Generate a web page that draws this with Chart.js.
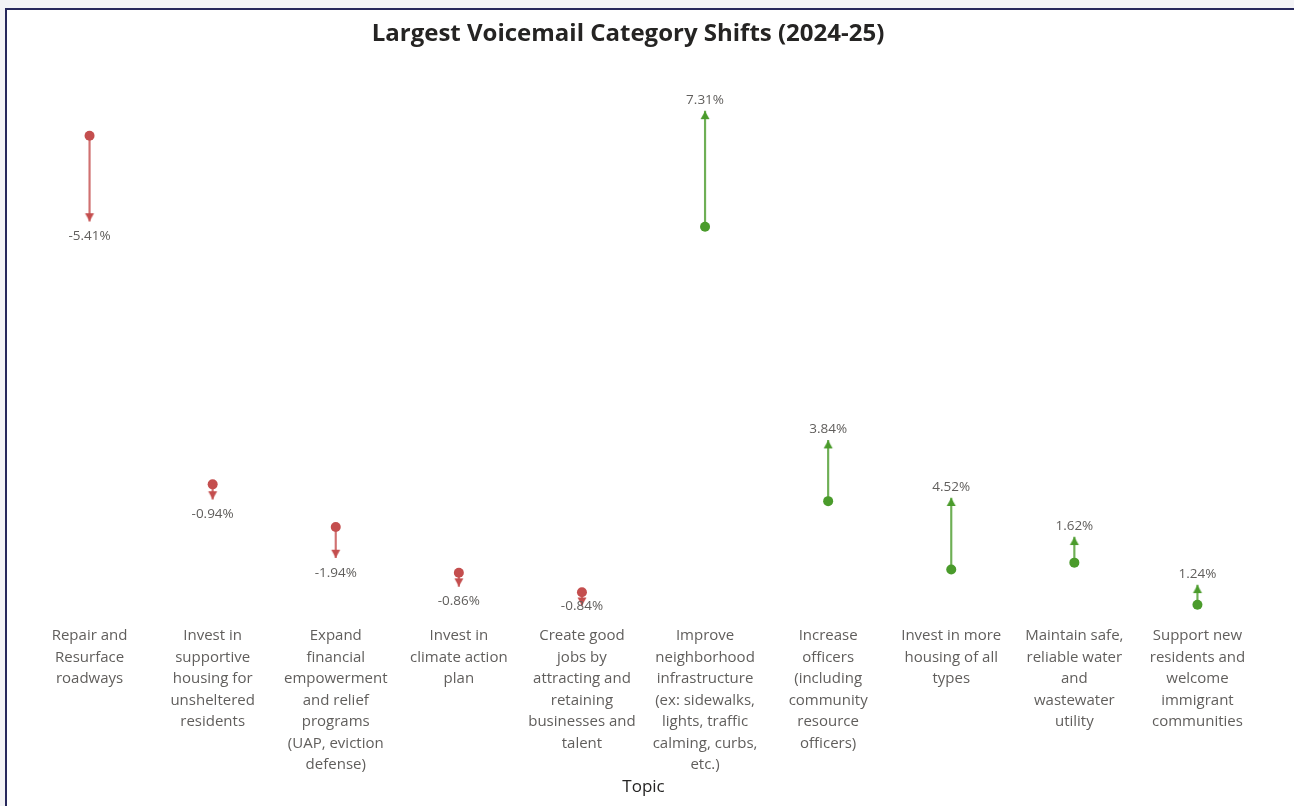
<!DOCTYPE html>
<html>
<head>
<meta charset="utf-8">
<title>Largest Voicemail Category Shifts (2024-25)</title>
<script src="https://cdn.jsdelivr.net/npm/chart.js@4.4.0/dist/chart.umd.min.js"></script>
<style>
  html, body { margin: 0; padding: 0; background: #f3f3f6; overflow: hidden; }
  #frame {
    position: absolute; left: 5px; top: 8px; width: 1400px; height: 900px;
    background: #fff; border: 2px solid #27285c;
  }
  #title {
    position: absolute; left: 0; top: 5px; width: 1242px; line-height: 32px;
    text-align: center; font: bold 24px "Segoe UI", "Open Sans", sans-serif; color: #252423;
  }
  #wrap { position: absolute; left: 0; top: 0; width: 1287px; height: 796px; }
</style>
</head>
<body>
<div id="frame">
  <div id="wrap"><canvas id="shiftChart"></canvas></div>
  <div id="title">Largest Voicemail Category Shifts (2024-25)</div>
</div>
<script>
// topics, wrapped the way they show under the axis
const topics = [
  ['Repair and', 'Resurface', 'roadways'],
  ['Invest in', 'supportive', 'housing for', 'unsheltered', 'residents'],
  ['Expand', 'financial', 'empowerment', 'and relief', 'programs', '(UAP, eviction', 'defense)'],
  ['Invest in', 'climate action', 'plan'],
  ['Create good', 'jobs by', 'attracting and', 'retaining', 'businesses and', 'talent'],
  ['Improve', 'neighborhood', 'infrastructure', '(ex: sidewalks,', 'lights, traffic', 'calming, curbs,', 'etc.)'],
  ['Increase', 'officers', '(including', 'community', 'resource', 'officers)'],
  ['Invest in more', 'housing of all', 'types'],
  ['Maintain safe,', 'reliable water', 'and', 'wastewater', 'utility'],
  ['Support new', 'residents and', 'welcome', 'immigrant', 'communities']
];

// share of voicemails in 2024 (%)
const share2024 = [30.15, 8.10, 5.40, 2.51, 1.28, 24.39, 7.04, 2.72, 3.15, 0.49];
// change to 2025 (percentage points)
const shift = [-5.41, -0.94, -1.94, -0.86, -0.84, 7.31, 3.84, 4.52, 1.62, 1.24];

const share2025 = share2024.map((v, i) => Math.round((v + shift[i]) * 100) / 100);

const RED = '#c44e4e';
const GREEN = '#4a9b2b';
const colorFor = i => (shift[i] < 0 ? RED : GREEN);

// arrowhead image whose tip sits at the image centre
function arrowHead(color, up) {
  const c = document.createElement('canvas');
  c.width = 20;
  c.height = 20;
  const g = c.getContext('2d');
  g.fillStyle = color;
  g.beginPath();
  if (up) {
    g.moveTo(10, 10); g.lineTo(14.5, 18); g.lineTo(5.5, 18);
  } else {
    g.moveTo(10, 10); g.lineTo(14.5, 2); g.lineTo(5.5, 2);
  }
  g.closePath();
  g.fill();
  return c;
}
const upHead = arrowHead(GREEN, true);
const downHead = arrowHead(RED, false);

// text of the change, placed past the arrow tip
const shiftLabels = {
  id: 'shiftLabels',
  afterDatasetsDraw(chart) {
    const { ctx, chartArea, scales } = chart;
    ctx.save();
    ctx.font = '13.5px "Segoe UI", "Open Sans", sans-serif';
    ctx.fillStyle = '#605e5c';
    ctx.textAlign = 'center';
    ctx.textBaseline = 'middle';
    shift.forEach((d, i) => {
      const x = scales.x.getPixelForValue(i);
      const yEnd = scales.y.getPixelForValue(share2025[i]);
      let y = d < 0 ? yEnd + 15 : yEnd - 11;
      y = Math.min(y, chartArea.bottom - 6);
      ctx.fillText(d.toFixed(2) + '%', x, y);
    });
    ctx.restore();
  }
};

new Chart(document.getElementById('shiftChart'), {
  type: 'bar',
  data: {
    labels: topics,
    datasets: [
      {
        label: '2024',
        type: 'line',
        data: share2024,
        showLine: false,
        pointRadius: 5,
        pointHoverRadius: 5,
        pointBackgroundColor: share2024.map((_, i) => colorFor(i)),
        pointBorderWidth: 0,
        order: 1
      },
      {
        label: '2025',
        type: 'line',
        data: share2025,
        showLine: false,
        pointStyle: shift.map(d => (d < 0 ? downHead : upHead)),
        order: 2
      },
      {
        label: 'Shift',
        data: share2024.map((v, i) => [v, share2025[i]]),
        backgroundColor: shift.map(d => (d < 0 ? 'rgba(196,78,78,0.8)' : 'rgba(74,155,43,0.8)')),
        barThickness: 1.5,
        borderSkipped: false,
        order: 3
      }
    ]
  },
  options: {
    responsive: true,
    maintainAspectRatio: false,
    animation: false,
    layout: { padding: { left: 21, right: 35, top: 49, bottom: 9 } },
    plugins: {
      legend: { display: false },
      tooltip: { enabled: false }
    },
    scales: {
      x: {
        offset: true,
        grid: { display: false },
        border: { display: false },
        ticks: {
          padding: 5,
          maxRotation: 0,
          autoSkip: false,
          color: '#605e5c',
          font: { family: '"Segoe UI", "Open Sans", sans-serif', size: 15, lineHeight: 1.43 }
        },
        title: {
          display: true,
          text: 'Topic',
          color: '#252423',
          padding: { top: -4, bottom: 0 },
          font: { family: '"Segoe UI", "Open Sans", sans-serif', size: 17 }
        }
      },
      y: {
        display: false,
        min: 0,
        max: 35
      }
    }
  },
  plugins: [shiftLabels]
});
</script>
</body>
</html>
